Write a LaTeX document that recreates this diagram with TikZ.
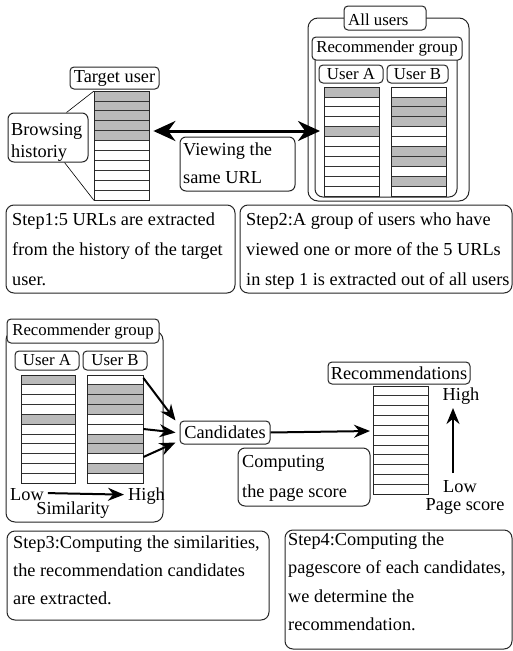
\documentclass[tikz,border=0pt]{standalone}
\usepackage{fontspec}
\setmainfont{Liberation Serif}
\usetikzlibrary{arrows.meta,calc}
\newcommand\bigfont{\fontsize{18.3}{29}\selectfont}
\newcommand\smallfont{\fontsize{16.8}{20}\selectfont}
\tikzset{
  rbox/.style={draw=black!85, line width=1pt, rounded corners=8pt, inner sep=0pt},
  lbl/.style={draw=black!85, line width=1pt, rounded corners=4pt, fill=white, inner sep=0pt, font=\bigfont},
  slbl/.style={lbl, font=\smallfont},
  txt/.style={inner sep=0pt, anchor=base west, align=left, font=\bigfont},
  lst/.style={inner sep=0pt, anchor=north west},
  graycell/.style={fill=black!27},
  rowline/.style={draw=black!80, line width=0.8pt},
  arr/.style={line width=2pt, -{Stealth[length=16pt,width=13pt]}},
}
\newcommand\urllist[6]{%
  \node[lst, minimum width=#4pt, minimum height=#5pt] (#1) at (#2,#3) {};
  \foreach \g in {#6} {\fill[graycell] (#2,{#3+\g*#5/11}) rectangle (#2+#4,{#3+(\g+1)*#5/11});}
  \foreach \i in {1,...,10} {\draw[rowline] (#2,{#3+\i*#5/11}) -- (#2+#4,{#3+\i*#5/11});}
  \draw[line width=1pt, draw=black!85] (#1.north west) rectangle (#1.south east);
}
\newcommand\emptylist[5]{%
  \node[lst, minimum width=#4pt, minimum height=#5pt] (#1) at (#2,#3) {};
  \foreach \i in {1,...,10} {\draw[rowline] (#2,{#3+\i*#5/11}) -- (#2+#4,{#3+\i*#5/11});}
  \draw[line width=1pt, draw=black!85] (#1.north west) rectangle (#1.south east);
}
\begin{document}
\begin{tikzpicture}[x=1pt,y=-1pt]
\useasboundingbox[fill=white] (0,0) rectangle (513,651);

% ---------- top left: target user ----------
\node[lbl, minimum width=89pt, minimum height=22pt] (tu) at (114.5,78) {Target user};
\urllist{tl}{94}{91}{55}{109}{0,1,2,3,4}
\node[rbox, rounded corners=6pt, minimum width=80pt, minimum height=49pt] (browse) at (48,137.5) {};
\node[txt, font=\fontsize{18.3}{22}\selectfont] (browset) at (11,157) {Browsing\\historiy};
\draw[line width=0.6pt] ($(browse.north west)+(59,0)$) -- (tl.north west);
\draw[line width=0.6pt] ($(browse.south west)+(57,0)$) -- (tl.south west);

% ---------- top right: all users ----------
\node[rbox, rounded corners=10pt, minimum width=161pt, minimum height=183pt] (all) at (388.5,109.5) {};
\node[slbl, minimum width=82pt, minimum height=24pt] (alllbl) at (385,18) {};
\node[txt, font=\smallfont] (allt) at (348,25) {All users};
\node[rbox, rounded corners=8pt, minimum width=142pt, minimum height=149pt] (grp) at (386,122.5) {};
\node[slbl, minimum width=150pt, minimum height=23pt] (grplbl) at (387,48.5) {Recommender group};
\node[slbl, minimum width=64pt, minimum height=18pt] (ualbl) at (351,74) {User A};
\node[slbl, minimum width=61pt, minimum height=18pt] (ublbl) at (417.5,74) {User B};
\urllist{ua}{324}{87}{55}{109}{0,4}
\urllist{ub}{391}{87}{55}{109}{1,2,3,6,7,9}

% ---------- double arrow ----------
\coordinate (dl) at ($(tl.north east)+(4,40)$);
\coordinate (dr) at ($(ua.north west)+(-4,44)$);
\draw[line width=3pt, {Stealth[length=22pt,width=20pt]}-{Stealth[length=22pt,width=20pt]}] (dl) -- (dr);
\node[rbox, rounded corners=6pt, minimum width=115pt, minimum height=54pt] (view) at (237.5,164) {};
\node[txt, font=\fontsize{18.3}{28}\selectfont] (viewt) at (183,183) {Viewing the\\same URL};

% ---------- step 1 / 2 ----------
\node[rbox, minimum width=229pt, minimum height=88pt] (s1) at (120.5,249) {};
\node[txt, font=\fontsize{18.3}{30}\selectfont] (s1t) at (12,285) {Step1:5 URLs are extracted\\from the history of the target\\user.};
\node[rbox, minimum width=272pt, minimum height=88pt] (s2) at (376,249) {};
\node[txt, font=\fontsize{18.3}{30}\selectfont] (s2t) at (246,285) {Step2:A group of users who have\\viewed one or more of the 5 URLs\\in step 1 is extracted out of all users};

% ---------- bottom left: recommender group ----------
\node[rbox, rounded corners=9pt, minimum width=157pt, minimum height=191pt] (grp2) at (84.5,426.5) {};
\node[slbl, minimum width=152pt, minimum height=24pt] (grp2lbl) at (83,331) {Recommender group};
\node[slbl, minimum width=64pt, minimum height=19pt] (ua2lbl) at (47,360.5) {User A};
\node[slbl, minimum width=64pt, minimum height=19pt] (ub2lbl) at (115,360.5) {User B};
\urllist{ua2}{21}{375}{54}{108}{0,4}
\urllist{ub2}{87}{375}{56}{108}{1,2,3,6,7,9}
\node[txt] (low1) at (10,500) {Low};
\node[txt] (high1) at (128,500) {High};
\draw[arr] ($(low1.east)+(4,-1)$) -- ($(high1.west)+(-4,-1)$);
\node[inner sep=0pt, anchor=base, font=\bigfont] (simt) at (73,514) {Similarity};

% ---------- candidates ----------
\node[lbl, minimum width=90pt, minimum height=23pt] (cand) at (225,432.5) {Candidates};
\draw[arr] ($(ub2.north east)+(0,3)$) -- ($(cand.west)+(-4,-12)$);
\draw[arr] ($(ub2.north east)+(0,54)$) -- ($(cand.west)+(-4,0)$);
\draw[arr] ($(ub2.north east)+(0,82)$) -- ($(cand.west)+(-4,10)$);

% ---------- recommendations ----------
\node[lbl, minimum width=142pt, minimum height=22pt] (reclbl) at (399,373) {Recommendations};
\emptylist{rl}{373}{386}{55}{108}
\draw[arr] (cand.east) -- ($(rl.north west)+(-3,45)$);
\node[rbox, rounded corners=7pt, minimum width=132pt, minimum height=58pt] (comp) at (304,477) {};
\node[txt, font=\fontsize{18.3}{30}\selectfont] (compt) at (242,497) {Computing\\the page score};
\node[inner sep=0pt, anchor=base, font=\bigfont] (high2) at (461,400) {High};
\node[inner sep=0pt, anchor=base, font=\bigfont] (low2) at (460,492) {Low};
\node[inner sep=0pt, anchor=base, font=\bigfont] (ps) at (465,510) {Page score};
\coordinate (upb) at (453,473);
\coordinate (upt) at (453,408);
\draw[arr] (upb) -- (upt);

% ---------- step 3 / 4 ----------
\node[rbox, minimum width=262pt, minimum height=89pt] (s3) at (138,575.5) {};
\node[txt, font=\fontsize{18.3}{28}\selectfont] (s3t) at (13,604) {Step3:Computing the similarities,\\the recommendation candidates\\are extracted.};
\node[rbox, minimum width=227pt, minimum height=119pt] (s4) at (398.5,589.5) {};
\node[txt, font=\fontsize{18.3}{28.5}\selectfont] (s4t) at (288,630.5) {Step4:Computing the\\pagescore of each candidates,\\we determine the\\recommendation.};
\end{tikzpicture}
\end{document}
